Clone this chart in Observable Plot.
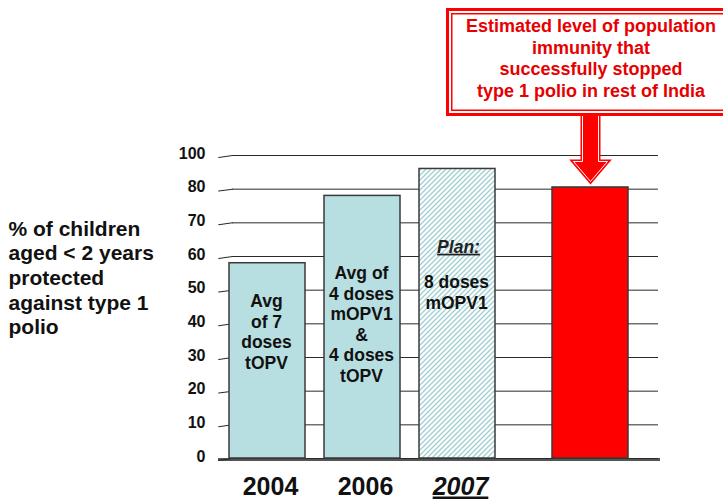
<!DOCTYPE html>
<html>
<head>
<meta charset="utf-8">
<script src="https://cdn.jsdelivr.net/npm/d3@7"></script>
<script src="https://cdn.jsdelivr.net/npm/@observablehq/plot@0.6"></script>
<style>
  html, body { margin: 0; padding: 0; background: #fff; }
  body { width: 723px; height: 499px; overflow: hidden; position: relative; font-family: Arial, "Liberation Sans", sans-serif; }
  #callout {
    position: absolute; left: 446px; top: 8px; width: 290px; height: 108px;
    box-sizing: border-box; border: 3px solid #f00;
    box-shadow: inset 0 0 0 2px #fff, inset 0 0 0 3.5px #f00;
    background: #fff; color: #e60000; font-weight: bold; font-size: 18px;
    line-height: 21.7px; text-align: center; padding-top: 5px; white-space: pre;
  }
</style>
</head>
<body>
<div id="chart"></div>
<div id="callout"></div>
<script>
// ---- data ----
const categories = ["2004", "2006", "2007"];
const values = [58, 78, 86];
const estimateCategory = "est";
const estimateValue = 80.5;
const barLabels = ["Avg\nof 7\ndoses\ntOPV", "Avg of\n4 doses\nmOPV1\n&\n4 doses\ntOPV", "8 doses\nmOPV1"];
const barLabelY = [37.7, 40, 49.5];
const planLabel = "Plan:";
const planLabelY = 62.8;
const yTickValues = [0, 10, 20, 30, 40, 50, 60, 70, 80, 90];
const yTickLabels = ["0", "10", "20", "30", "40", "50", "60", "70", "80", "100"];
const yTitle = "% of children\naged < 2 years\nprotected\nagainst type 1\npolio";
const calloutText = "Estimated level of population\nimmunity that\nsuccessfully stopped\ntype 1 polio in rest of India";

// ---- tables ----
const bars = categories.map((c, i) => ({year: c, value: values[i]}));
const actualBars = bars.filter(d => d.year !== "2007");
const planBars = bars.filter(d => d.year === "2007");
const estimate = [{year: estimateCategory, value: estimateValue}];
const labels = barLabels.map((t, i) => ({year: categories[i], text: t, y: barLabelY[i]}));

const lineShape = {draw(c, l) { c.moveTo(0, 0); c.lineTo(0, -l); }};
function blockArrow(sw, hw, hl) {
  return {draw(c, l) {
    c.moveTo(-sw, 0); c.lineTo(-sw, -(l - hl)); c.lineTo(-hw, -(l - hl));
    c.lineTo(0, -l); c.lineTo(hw, -(l - hl)); c.lineTo(sw, -(l - hl));
    c.lineTo(sw, 0); c.closePath();
  }};
}
const arrowShape = blockArrow(8, 17, 20);
const font = "Arial, 'Liberation Sans', sans-serif";

const svg = Plot.plot({
  width: 723,
  height: 499,
  marginTop: 155,
  marginBottom: 41,
  marginLeft: 200,
  marginRight: 105,
  style: {fontFamily: font, background: "transparent"},
  x: {domain: [...categories, estimateCategory], paddingInner: 0.2, paddingOuter: 0.3, axis: null},
  y: {domain: [0, 90], axis: null},
  marks: [
    // floor
    Plot.ruleY([0], {insetLeft: 18, insetRight: -42, stroke: "#555", strokeWidth: 3, dy: 1}),
    // gridlines
    Plot.ruleY(yTickValues, {insetLeft: 32, insetRight: -40, stroke: "#2a2a2a", strokeWidth: 1}),
    // slanted tick stubs
    Plot.vector(yTickValues, {y: d => d, frameAnchor: "left", dx: 32, length: 14, rotate: 82, anchor: "end", shape: lineShape, stroke: "#2a2a2a", strokeWidth: 1}),
    // bars
    Plot.barY(actualBars, {x: "year", y: "value", fill: "#b7dee0", stroke: "#3a3a3a", strokeWidth: 1.5}),
    Plot.barY(planBars, {x: "year", y: "value", fill: "url(#hatch)", stroke: "#3a3a3a", strokeWidth: 1.5}),
    Plot.barY(estimate, {x: "year", y: "value", dx: 38, fill: "#ff0000", stroke: "#3a3a3a", strokeWidth: 1.5}),
    // arrow
    Plot.vector(estimate, {x: "year", y: "value", dx: 38, dy: -6, rotate: 180, length: 69, anchor: "end", shape: arrowShape, fill: "#ff0000", stroke: "#ff0000", strokeWidth: 4, strokeLinejoin: "miter"}),
    Plot.vector(estimate, {x: "year", y: "value", dx: 38, dy: -6, rotate: 180, length: 69, anchor: "end", shape: arrowShape, fill: "#ff0000", stroke: "#ffffff", strokeWidth: 1, strokeLinejoin: "miter"}),
    // bar labels
    Plot.text(labels, {x: "year", y: "y", text: "text", fontSize: 17.5, fontWeight: "bold", fill: "#111", lineHeight: 1.17, dx: -1}),
    Plot.text([planLabel], {x: () => "2007", y: () => planLabelY, text: d => d, fontSize: 17.5, fontWeight: "bold", fontStyle: "italic", fill: "#222", dx: 1}),
    // y tick labels
    Plot.text(yTickValues, {y: d => d, text: (d, i) => yTickLabels[i], frameAnchor: "left", textAnchor: "end", dx: 5, dy: -2, fontSize: 16, fontWeight: "bold", fill: "#111"}),
    // y title
    Plot.text([yTitle], {text: d => d, frameAnchor: "left", textAnchor: "start", dx: -192, dy: -30, fontSize: 21, fontWeight: "bold", lineHeight: 1.176, fill: "#111"}),
    // x labels
    Plot.text(categories.filter(c => c !== "2007"), {x: d => d, text: d => d, frameAnchor: "bottom", dy: 36, dx: 3, fontSize: 25, fontWeight: "bold", fill: "#111"}),
    Plot.text(["2007"], {x: d => d, text: d => d, frameAnchor: "bottom", dy: 36, dx: 3, fontSize: 25, fontWeight: "bold", fontStyle: "italic", fill: "#111"})
  ]
});

d3.select(svg).insert("defs", ":first-child").html(
  `<pattern id="hatch" patternUnits="userSpaceOnUse" width="5" height="5">
     <rect width="5" height="5" fill="#ffffff"/>
     <path d="M-1,1 l2,-2 M0,5 l5,-5 M4,6 l2,-2" stroke="#9ecfd3" stroke-width="1.3"/>
   </pattern>`
);
d3.select(svg).selectAll("text").filter(function() {
  return this.textContent === "2007" || this.textContent === "Plan:";
}).style("text-decoration", "underline");

document.getElementById("chart").appendChild(svg);
document.getElementById("callout").textContent = calloutText;
</script>
</body>
</html>
